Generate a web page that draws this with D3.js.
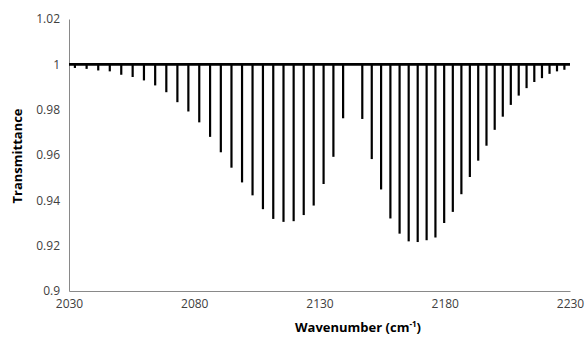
<!DOCTYPE html>
<html>
<head>
<meta charset="utf-8">
<script src="https://cdn.jsdelivr.net/npm/d3@7"></script>
<style>
html,body{margin:0;padding:0;background:#fff;}
svg{display:block;}
</style>
</head>
<body>
<svg id="chart" width="587" height="338"></svg>
<script>
// Line positions (cm-1) and minimum transmittance
const pBranchWavenumber = [2139.43,2135.55,2131.63,2127.68,2123.70,2119.68,2115.63,2111.54,2107.42,2103.27,2099.08,2094.86,2090.61,2086.32,2082.00,2077.65,2073.27,2068.85,2064.40,2059.92,2055.41,2050.86,2046.28,2041.67,2037.03,2032.36];
const pBranchTransmittance = [0.9762,0.9592,0.9472,0.9377,0.9335,0.9308,0.9305,0.9318,0.9361,0.9422,0.9479,0.9544,0.9612,0.9680,0.9744,0.9792,0.9833,0.9877,0.9907,0.9929,0.9944,0.9954,0.9969,0.9973,0.9980,0.9984];
const rBranchWavenumber = [2147.08,2150.86,2154.59,2158.30,2161.97,2165.60,2169.20,2172.76,2176.28,2179.77,2183.22,2186.64,2190.02,2193.36,2196.66,2199.94,2203.17,2206.37,2209.53,2212.66,2215.75,2218.81,2221.83,2224.81,2227.76];
const rBranchTransmittance = [0.9759,0.9582,0.9448,0.9320,0.9253,0.9219,0.9216,0.9224,0.9236,0.9300,0.9349,0.9427,0.9503,0.9575,0.9641,0.9711,0.9769,0.9821,0.9862,0.9895,0.9922,0.9939,0.9958,0.9969,0.9976];
const baselineRange = [2030, 2230];
const baselineValue = 1.0;
const xTicks = [2030, 2080, 2130, 2180, 2230];
const yTicks = [0.9, 0.92, 0.94, 0.96, 0.98, 1, 1.02];
const yTickLabels = ["0.9","0.92","0.94","0.96","0.98","1","1.02"];

(function(){
const svg = d3.select("#chart");
const mLeft = 69, mRight = 570, mTop = 19, mBottom = 291;
const x = d3.scaleLinear().domain([2030, 2230]).range([mLeft, mRight]);
const y = d3.scaleLinear().domain([0.9, 1.02]).range([mBottom, mTop]);

const lines = pBranchWavenumber.map((w,i)=>({w, t:pBranchTransmittance[i]}))
  .concat(rBranchWavenumber.map((w,i)=>({w, t:rBranchTransmittance[i]})));

const font = "'Open Sans', 'Liberation Sans', sans-serif";
const axisColor = "#898989";
const textColor = "#404040";

const yAxis = d3.axisLeft(y).tickValues(yTicks).tickSize(0).tickPadding(9)
  .tickFormat((d,i)=>yTickLabels[i]);
const gy = svg.append("g").attr("transform",`translate(${mLeft},0)`).call(yAxis);
gy.select(".domain").attr("stroke", axisColor).attr("stroke-width",1);
gy.selectAll("text").attr("fill", textColor).style("font-family", font).style("font-size","12px");

const xAxis = d3.axisBottom(x).tickValues(xTicks).tickSize(0).tickPadding(8)
  .tickFormat(d3.format("d"));
const gx = svg.append("g").attr("transform",`translate(0,${mBottom})`).call(xAxis);
gx.select(".domain").attr("stroke", axisColor).attr("stroke-width",1);
gx.selectAll("text").attr("fill", textColor).style("font-family", font).style("font-size","12px");

svg.append("g").selectAll("line").data(lines).join("line")
  .attr("x1", d=>x(d.w)).attr("x2", d=>x(d.w))
  .attr("y1", y(baselineValue)).attr("y2", d=>y(d.t))
  .attr("stroke","#000").attr("stroke-width",2.2);

svg.append("path")
  .datum(baselineRange.map(w=>({w, t:baselineValue})))
  .attr("fill","none").attr("stroke","#000").attr("stroke-width",2.6)
  .attr("d", d3.line().x(d=>x(d.w)).y(d=>y(d.t)));

const xt = svg.append("text").attr("x", 358).attr("y", 332).attr("text-anchor","middle")
  .attr("fill","#000").style("font-family", font).style("font-size","13px").style("font-weight","bold");
xt.append("tspan").text("Wavenumber (cm");
xt.append("tspan").attr("dy",-5).style("font-size","8px").text("-1");
xt.append("tspan").attr("dy",5).text(")");

svg.append("text").attr("transform","translate(22,156) rotate(-90)").attr("text-anchor","middle")
  .attr("fill","#000").style("font-family", font).style("font-size","13px").style("font-weight","bold")
  .text("Transmittance");
})();
</script>
</body>
</html>
